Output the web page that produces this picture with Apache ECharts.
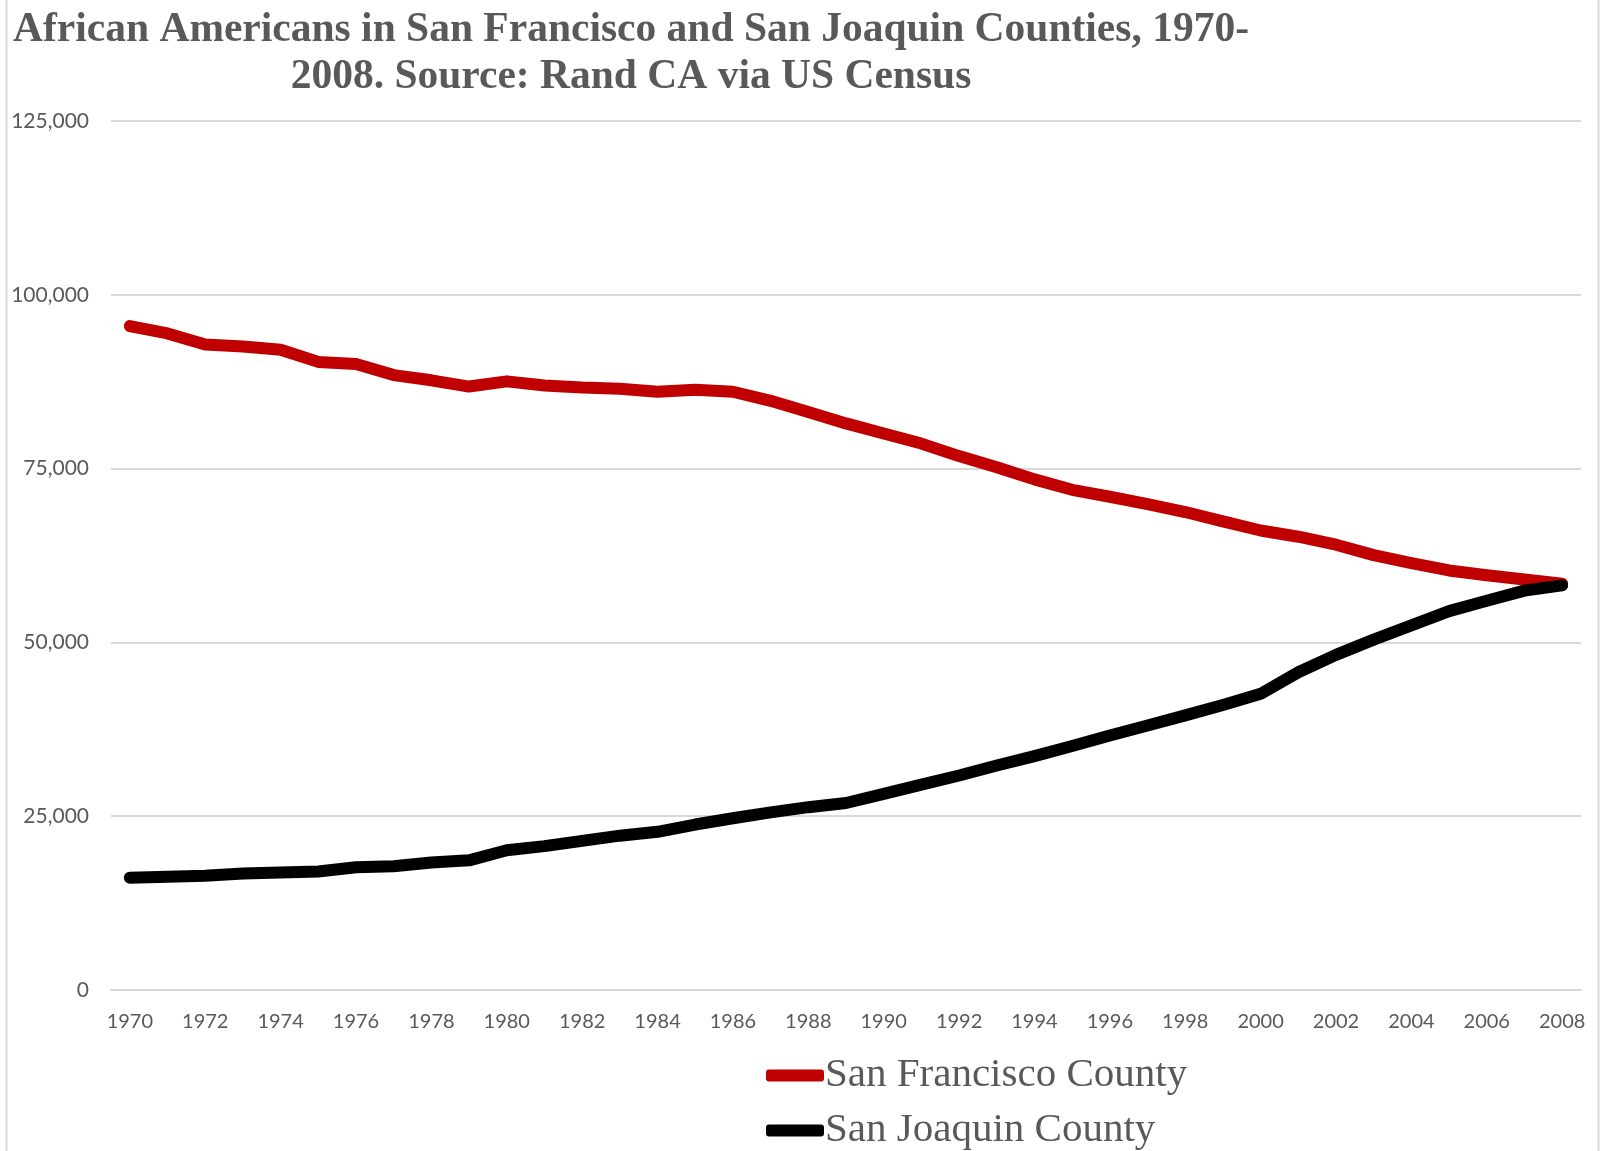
<!DOCTYPE html>
<html>
<head>
<meta charset="utf-8">
<script src="https://cdn.jsdelivr.net/npm/echarts@6/dist/echarts.min.js"></script>
<style>
html,body{margin:0;padding:0;background:#fff;}
#chart{width:1601px;height:1151px;}
</style>
</head>
<body>
<div id="chart"></div>
<script>
const years = ['1970','1971','1972','1973','1974','1975','1976','1977','1978','1979',
  '1980','1981','1982','1983','1984','1985','1986','1987','1988','1989',
  '1990','1991','1992','1993','1994','1995','1996','1997','1998','1999',
  '2000','2001','2002','2003','2004','2005','2006','2007','2008'];
const sanFrancisco = [95500,94450,92850,92550,92100,90350,90050,88450,87700,86800,
  87550,86950,86650,86500,86050,86350,86050,84750,83150,81500,
  80050,78600,76800,75200,73450,71950,70950,69900,68750,67400,
  66100,65200,64050,62550,61400,60350,59650,59050,58450];
const sanJoaquin = [16150,16300,16450,16750,16900,17050,17650,17800,18350,18650,
  20100,20700,21450,22200,22750,23800,24700,25550,26300,26900,
  28200,29550,30850,32300,33650,35100,36600,38050,39500,41000,
  42600,45700,48200,50400,52450,54500,56000,57450,58200];
const seriesNames = ['San Francisco County','San Joaquin County'];
const titleText = 'African Americans in San Francisco and San Joaquin Counties, 1970-\n2008. Source: Rand CA via US Census';
const yTicks = {min:0, max:125000, interval:25000};

const chart = echarts.init(document.getElementById('chart'));
chart.setOption({
  backgroundColor:'#ffffff',
  animation:false,
  title:{
    text:titleText,
    left:631, top:7, padding:0,
    textAlign:'center',
    textStyle:{fontFamily:'Liberation Serif', fontWeight:'bold', fontSize:41.5, color:'#595959', lineHeight:47, align:'center'}
  },
  graphic:[
    {type:'line', shape:{x1:6.5,y1:0,x2:6.5,y2:1151}, style:{stroke:'#d9d9d9', lineWidth:2}, silent:true},
    {type:'line', shape:{x1:1598.5,y1:0,x2:1598.5,y2:1151}, style:{stroke:'#d9d9d9', lineWidth:2}, silent:true}
  ],
  grid:{left:111, right:20, top:121, bottom:161, containLabel:false},
  xAxis:{
    type:'category', data:years, boundaryGap:true,
    axisLine:{lineStyle:{color:'#d9d9d9', width:2}},
    axisTick:{show:false},
    axisLabel:{interval:1, margin:22, fontFamily:'Lato', fontSize:20, color:'#595959'}
  },
  yAxis:{
    type:'value', min:yTicks.min, max:yTicks.max, interval:yTicks.interval,
    axisLine:{show:false}, axisTick:{show:false},
    splitLine:{lineStyle:{color:'#d9d9d9', width:2}},
    axisLabel:{margin:22, fontFamily:'Lato', fontSize:21, color:'#595959',
      formatter:v=>v.toLocaleString('en-US')}
  },
  legend:{
    orient:'vertical', left:766, top:1055, padding:0, itemGap:14,
    itemWidth:58, itemHeight:12, icon:'roundRect',
    textStyle:{fontFamily:'Liberation Serif', fontSize:41, color:'#595959', padding:[0,0,0,-4]},
    data:seriesNames
  },
  series:[
    {name:seriesNames[0], type:'line', data:sanFrancisco, showSymbol:false, color:'#C00000',
      lineStyle:{width:12, color:'#C00000', cap:'round', join:'round'}},
    {name:seriesNames[1], type:'line', data:sanJoaquin, showSymbol:false, color:'#000000',
      lineStyle:{width:12, color:'#000000', cap:'round', join:'round'}}
  ]
});
</script>
</body>
</html>
